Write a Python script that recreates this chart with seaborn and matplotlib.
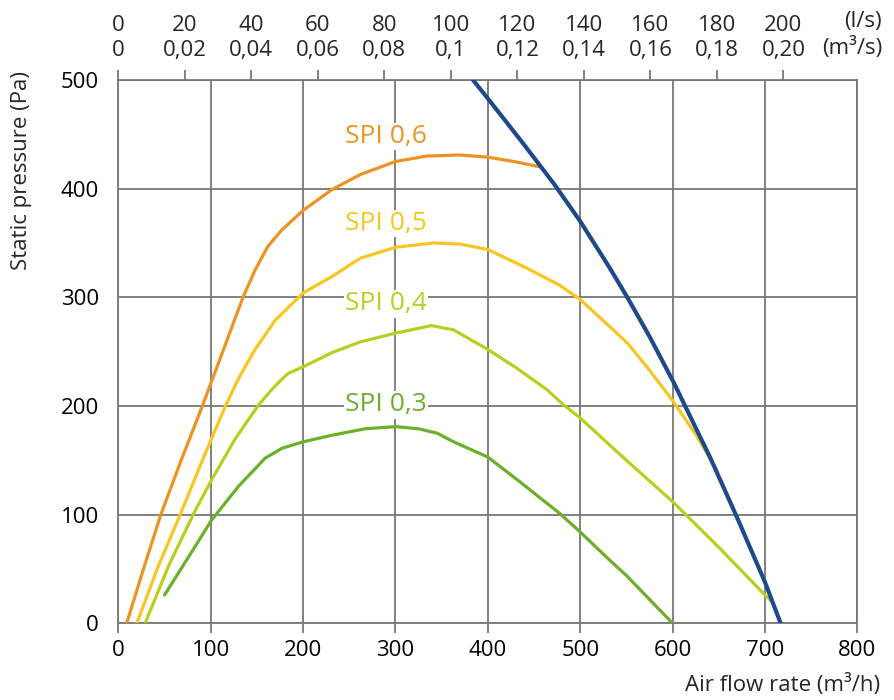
import numpy as np
import pandas as pd
import seaborn as sns
import matplotlib
matplotlib.use('Agg')
import matplotlib.pyplot as plt

# curves: airflow (m3/h) / static pressure (Pa)
spi06_x = [9, 28, 46, 68, 91, 113, 135, 148, 162, 177, 200, 231, 262, 300, 334, 370, 400, 428, 457]
spi06_y = [0, 52, 100, 150, 200, 250, 300, 325, 347, 362, 380, 399, 413, 425, 430, 431, 429, 425, 420]

spi05_x = [20, 43, 67, 91, 116, 130, 148, 170, 200, 231, 262, 300, 341, 370, 400, 442, 478, 500,
           532, 551, 575, 600, 625, 648]
spi05_y = [0, 52, 100, 150, 200, 225, 252, 279, 304, 319, 336, 346, 350, 349, 344, 327, 311, 298,
           273, 258, 233, 205, 174, 141]

spi04_x = [29, 54, 81, 101, 126, 151, 165, 175, 184, 200, 231, 262, 300, 339, 363, 400, 431, 464,
           482, 500, 532, 550, 600, 650, 700, 706]
spi04_y = [0, 52, 100, 132, 169, 200, 214, 223, 230, 236, 249, 259, 267, 274, 270, 252, 235, 215,
           201, 189, 164, 150, 112, 70, 26, 21]

spi03_x = [50, 76, 101, 130, 159, 177, 200, 231, 267, 300, 325, 345, 363, 400, 435, 478, 500, 532,
           550, 575, 600]
spi03_y = [26, 61, 95, 126, 152, 161, 167, 173, 179, 181, 179, 175, 167, 153, 130, 101, 84, 58,
           44, 22, 0]

fan_x = [384, 400, 437, 472, 500, 532, 551, 575, 601, 613, 641, 670, 700, 717]
fan_y = [500, 483, 443, 404, 370, 327, 300, 264, 222, 201, 152, 97, 38, 0]

spi_labels = ['SPI 0,6', 'SPI 0,5', 'SPI 0,4', 'SPI 0,3']
spi_colors = ['#ec9322', '#f9c521', '#b9cf1f', '#6bb02b']
label_x = [290, 290, 290, 290]
label_y = [448, 368, 294, 201]

ls_ticks = [0, 20, 40, 60, 80, 100, 120, 140, 160, 180, 200]
m3s_labels = ['0', '0,02', '0,04', '0,06', '0,08', '0,1', '0,12', '0,14', '0,16', '0,18', '0,20']

curves = pd.concat([
    pd.DataFrame({'flow': spi06_x, 'pressure': spi06_y, 'curve': 'SPI 0,6'}),
    pd.DataFrame({'flow': spi05_x, 'pressure': spi05_y, 'curve': 'SPI 0,5'}),
    pd.DataFrame({'flow': spi04_x, 'pressure': spi04_y, 'curve': 'SPI 0,4'}),
    pd.DataFrame({'flow': spi03_x, 'pressure': spi03_y, 'curve': 'SPI 0,3'}),
])
fan = pd.DataFrame({'flow': fan_x, 'pressure': fan_y})

sns.set_theme(style='white')
plt.rcParams['font.family'] = ['Open Sans', 'DejaVu Sans']
grid_c = '#777777'

fig = plt.figure(figsize=(8.95, 7), dpi=100)
ax = fig.add_axes([0.1322, 0.1096, 0.8257, 0.7761])

sns.lineplot(data=curves, x='flow', y='pressure', hue='curve', hue_order=spi_labels,
             palette=spi_colors, sort=False, estimator=None, lw=2.3, legend=False, ax=ax, zorder=3)
sns.lineplot(data=fan, x='flow', y='pressure', sort=False, estimator=None,
             color='#1e4a8c', lw=3, ax=ax, zorder=4)

ax.set_xlim(0, 800)
ax.set_ylim(0, 500)
ax.set_xticks(np.arange(0, 801, 100))
ax.set_yticks(np.arange(0, 501, 100))
ax.grid(True, color=grid_c, lw=1.3)
ax.set_axisbelow(True)
for s in ax.spines.values():
    s.set_color(grid_c)
    s.set_linewidth(1.3)
ax.tick_params(axis='both', which='major', length=7, width=1.3, color=grid_c,
               labelsize=16, labelcolor='black', direction='out')
ax.tick_params(axis='x', pad=5)
ax.tick_params(axis='y', pad=7)
ax.set_xlabel('')
ax.set_ylabel('')

for lab, col, lx, ly in zip(spi_labels, spi_colors, label_x, label_y):
    ax.text(lx, ly, lab, color=col, fontsize=19, ha='center', va='center', zorder=2,
            bbox=dict(facecolor='white', edgecolor='none', pad=1))

# top axis: l/s and m3/s
top = ax.twiny()
top.set_xlim(ax.get_xlim())
top.set_xticks([v * 3.6 for v in ls_ticks])
top.set_xticklabels([f'{a}\n{b}' for a, b in zip(ls_ticks, m3s_labels)], linespacing=1.25)
top.tick_params(axis='x', length=7, width=1.3, color=grid_c, labelsize=16, pad=7)
for s in top.spines.values():
    s.set_visible(False)
top.grid(False)

fig.text(882 / 895, 1 - 22 / 700, '(l/s)', fontsize=16, ha='right', va='center')
fig.text(882 / 895, 1 - 48 / 700, '(m³/s)', fontsize=16, ha='right', va='center')
fig.text(880 / 895, 1 - 685 / 700, 'Air flow rate (m³/h)', fontsize=16, ha='right', va='center')
fig.text(22 / 895, 1 - 171 / 700, 'Static pressure (Pa)', fontsize=16, ha='center', va='center',
         rotation=90)

fig.savefig('out.png', dpi=100)
